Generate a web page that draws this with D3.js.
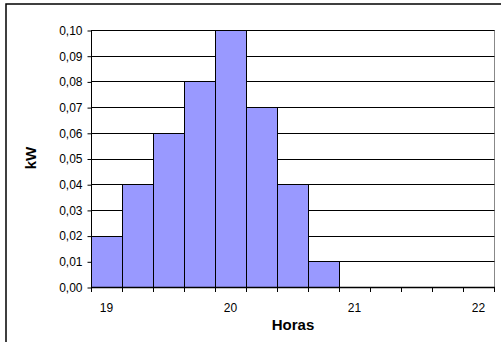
<!DOCTYPE html>
<html>
<head>
<meta charset="utf-8">
<script src="https://cdn.jsdelivr.net/npm/d3@7"></script>
<style>
  html, body { margin: 0; padding: 0; background: #fff; }
  svg { display: block; font-family: Arial, "Liberation Sans", sans-serif; }
</style>
</head>
<body>
<svg id="chart" width="501" height="342"></svg>
<script>
// Quarter-hour slots from 19:00 to 22:00 (hours as decimals)
const slots = [19, 19.25, 19.5, 19.75, 20, 20.25, 20.5, 20.75, 21, 21.25, 21.5, 21.75, 22];
// Power per slot, kW
const power = [0.02, 0.04, 0.06, 0.08, 0.10, 0.07, 0.04, 0.01, 0, 0, 0, 0, 0];
// Y tick values and labels shown on the axis
const yTicks = [0, 0.01, 0.02, 0.03, 0.04, 0.05, 0.06, 0.07, 0.08, 0.09, 0.10];
const xLabels = [19, 20, 21, 22];

const svg = d3.select("#chart");
const plot = { left: 91, right: 494, top: 30, bottom: 287 };

const x = d3.scaleBand().domain(slots).range([plot.left, plot.right]).padding(0);
const y = d3.scaleLinear().domain([0, 0.1]).range([plot.bottom, plot.top]);

// Outer chart frame (runs off the right and bottom edges)
svg.append("path")
  .attr("d", "M6,342 V4 H501")
  .attr("fill", "none").attr("stroke", "#000").attr("stroke-width", 1.5);

// Plot area frame
svg.append("rect")
  .attr("x", plot.left + 0.5).attr("y", plot.top + 0.5)
  .attr("width", plot.right - plot.left).attr("height", plot.bottom - plot.top)
  .attr("fill", "#fff").attr("stroke", "#888").attr("stroke-width", 1);

// Horizontal gridlines
svg.append("g").selectAll("line")
  .data(yTicks.filter(d => d > 0))
  .join("line")
  .attr("x1", plot.left).attr("x2", plot.right + 0.5)
  .attr("y1", d => Math.round(y(d)) + 0.5).attr("y2", d => Math.round(y(d)) + 0.5)
  .attr("stroke", "#000").attr("stroke-width", 1);

// Bars
svg.append("g").selectAll("rect")
  .data(slots.map((s, i) => ({ s, v: power[i] })).filter(d => d.v > 0))
  .join("rect")
  .attr("x", d => Math.round(x(d.s)) + 0.5)
  .attr("y", d => Math.round(y(d.v)) + 0.5)
  .attr("width", x.bandwidth())
  .attr("height", d => Math.round(y(0)) - Math.round(y(d.v)))
  .attr("fill", "#9999ff").attr("stroke", "#000").attr("stroke-width", 1);

// Y axis
const yAxis = d3.axisLeft(y)
  .tickValues(yTicks)
  .tickSize(4)
  .tickPadding(5)
  .tickFormat(d => d3.format(".2f")(d).replace(".", ","));
const gy = svg.append("g")
  .attr("transform", `translate(${plot.left + 0.5},0.5)`)
  .call(yAxis);
gy.select(".domain").attr("stroke", "#000").attr("d", `M0,${plot.top}V${plot.bottom}`);
gy.selectAll(".tick line").attr("stroke", "#000");
gy.selectAll(".tick text").attr("font-size", 12).attr("fill", "#000")
  .attr("font-family", "Arial, 'Liberation Sans', sans-serif");

// X axis: tick marks at slot boundaries, labels at whole hours
const gx = svg.append("g");
gx.append("line")
  .attr("x1", plot.left).attr("x2", plot.right + 1)
  .attr("y1", plot.bottom + 0.5).attr("y2", plot.bottom + 0.5)
  .attr("stroke", "#000").attr("stroke-width", 1.5);
const boundaries = slots.map(s => x(s)).concat([x(slots[slots.length - 1]) + x.bandwidth()]);
gx.selectAll("line.tk")
  .data(boundaries)
  .join("line").attr("class", "tk")
  .attr("x1", d => Math.round(d) + 0.5).attr("x2", d => Math.round(d) + 0.5)
  .attr("y1", plot.bottom).attr("y2", plot.bottom + 5)
  .attr("stroke", "#000");
gx.selectAll("text")
  .data(xLabels)
  .join("text")
  .attr("x", d => x(d) + x.bandwidth() / 2)
  .attr("y", 311.5)
  .attr("text-anchor", "middle")
  .attr("font-size", 12)
  .text(d => d);

// Axis titles
svg.append("text")
  .attr("x", 293).attr("y", 330)
  .attr("text-anchor", "middle")
  .attr("font-size", 15).attr("font-weight", "bold")
  .text("Horas");
svg.append("text")
  .attr("transform", "translate(36,158) rotate(-90)")
  .attr("text-anchor", "middle")
  .attr("font-size", 15).attr("font-weight", "bold")
  .text("kW");
</script>
</body>
</html>
